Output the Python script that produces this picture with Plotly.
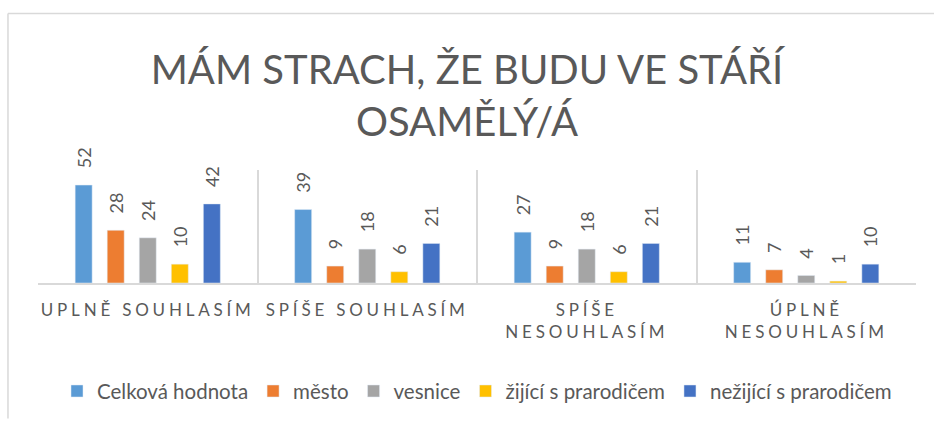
import plotly.graph_objects as go

categories = ["UPLNĚ SOUHLASÍM", "SPÍŠE SOUHLASÍM", "SPÍŠE<br>NESOUHLASÍM", "ÚPLNĚ<br>NESOUHLASÍM"]
series_names = ["Celková hodnota", "město", "vesnice", "žijící s prarodičem", "nežijící s prarodičem"]
celkova = [52, 39, 27, 11]
mesto = [28, 9, 9, 7]
vesnice = [24, 18, 18, 4]
zijici = [10, 6, 6, 1]
nezijici = [42, 21, 21, 10]
colors = ["#5B9BD5", "#ED7D31", "#A5A5A5", "#FFC000", "#4472C4"]

title_text = "MÁM STRACH, ŽE BUDU VE STÁŘÍ<br>OSAMĚLÝ/Á"
FONT = "Lato, Open Sans, sans-serif"
GRAY = "#595959"

fig = go.Figure()
for name, vals, col in zip(series_names, [celkova, mesto, vesnice, zijici, nezijici], colors):
    fig.add_trace(go.Bar(
        name=name, x=categories, y=vals, marker_color=col,
        texttemplate="\u00a0\u00a0\u00a0%{y}", textposition="outside", textangle=-90,
        constraintext="none",
        textfont=dict(family=FONT, size=18, color=GRAY), cliponaxis=False,
    ))

fig.update_layout(
    width=934, height=421,
    paper_bgcolor="white", plot_bgcolor="white",
    margin=dict(l=38, r=18, t=170, b=137),
    barmode="group", bargap=0.27, bargroupgap=0.47,
    title=dict(text=title_text, x=0.5, xanchor="center", y=0.80, yanchor="middle",
               font=dict(family=FONT, size=40, color=GRAY, weight=400)),
    font=dict(family=FONT, color=GRAY),
    showlegend=True,
    legend=dict(orientation="h", x=0.5, xanchor="center", y=-0.94, yanchor="middle",
                font=dict(family=FONT, size=20.5, color=GRAY), itemwidth=30, traceorder="normal"),
    xaxis=dict(showline=True, linecolor="#D9D9D9", linewidth=1.5, showgrid=True,
               gridcolor="#D9D9D9", gridwidth=1.5, tickson="boundaries", ticks="",
               tickfont=dict(family=FONT, size=17, color=GRAY), ticklabelstandoff=11,
               automargin=False),
    yaxis=dict(range=[0, 60], visible=False, showgrid=False, zeroline=False),
    shapes=[dict(type="line", xref="paper", yref="paper", x0=-0.0342, x1=-0.0342, y0=-1.2, y1=2.386,
                 line=dict(color="#D9D9D9", width=1.5)),
            dict(type="line", xref="paper", yref="paper", x0=-0.0342, x1=1.03, y0=2.386, y1=2.386,
                 line=dict(color="#D9D9D9", width=1.5))],
)

post = """
document.body.style.margin='0';
var gd=document.getElementById('{plot_id}');
function ls(){ gd.querySelectorAll('.xtick text').forEach(function(t){t.style.letterSpacing='3.8px';}); }
ls(); gd.on('plotly_afterplot', ls);
"""
fig.write_html("out.html", post_script=post, config={"displayModeBar": False})
